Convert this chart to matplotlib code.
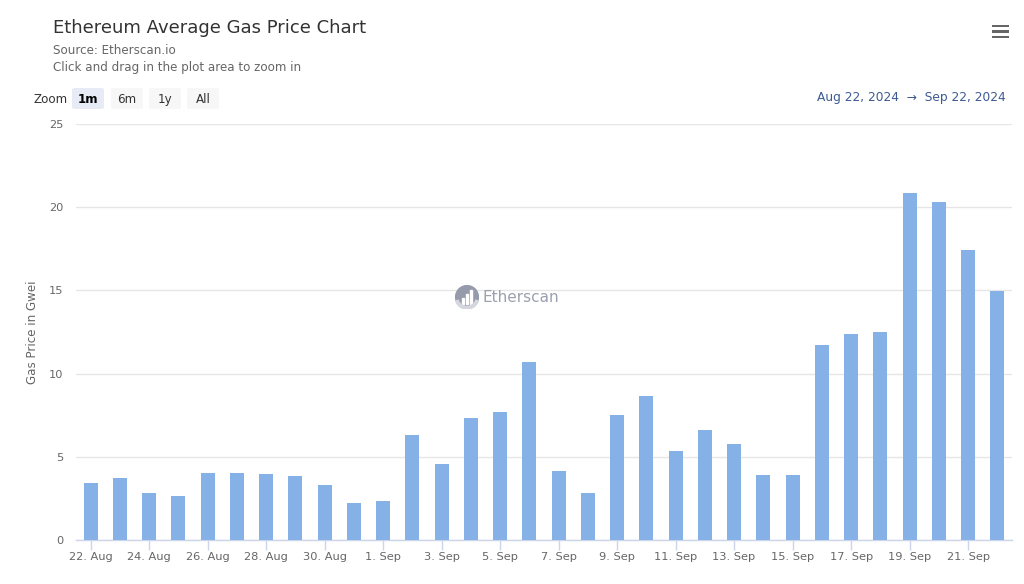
import matplotlib
matplotlib.use("Agg")
import matplotlib.pyplot as plt
from matplotlib.patches import FancyBboxPatch, Circle, Wedge, Rectangle

plt.rcParams['font.family'] = ['DejaVu Sans']

dates = ["22. Aug", "23. Aug", "24. Aug", "25. Aug", "26. Aug", "27. Aug", "28. Aug",
         "29. Aug", "30. Aug", "31. Aug", "1. Sep", "2. Sep", "3. Sep", "4. Sep",
         "5. Sep", "6. Sep", "7. Sep", "8. Sep", "9. Sep", "10. Sep", "11. Sep",
         "12. Sep", "13. Sep", "14. Sep", "15. Sep", "16. Sep", "17. Sep", "18. Sep",
         "19. Sep", "20. Sep", "21. Sep", "22. Sep"]
gas_gwei = [3.43, 3.73, 2.82, 2.64, 4.03, 4.03, 3.97, 3.85, 3.30, 2.22, 2.34,
            6.31, 4.57, 7.33, 7.69, 10.70, 4.15, 2.82, 7.51, 8.65, 5.35, 6.61,
            5.77, 3.90, 3.90, 11.72, 12.38, 12.50, 20.85, 20.30, 17.43, 14.96]
y_ticks = [0, 5, 10, 15, 20, 25]
zoom_buttons = ["1m", "6m", "1y", "All"]

W, H = 1024, 584
fig = plt.figure(figsize=(W / 100, H / 100), dpi=100)
ax = fig.add_axes([76 / W, 1 - 540 / H, (1012 - 76) / W, (540 - 124) / H])

x = list(range(len(dates)))
ax.bar(x, gas_gwei, width=0.48, color="#85b1e7", zorder=3)

ax.set_xlim(-0.5, len(dates) - 0.5)
ax.set_ylim(0, 25)
ax.set_yticks(y_ticks)
ax.set_yticklabels([str(v) for v in y_ticks])
ax.set_xticks(x[::2])
ax.set_xticklabels(dates[::2])
ax.grid(axis="y", color="#e6e6e6", linewidth=1, zorder=0)
for s in ["top", "right", "left"]:
    ax.spines[s].set_visible(False)
ax.spines["bottom"].set_color("#ccd6eb")
ax.spines["bottom"].set_linewidth(1)
ax.tick_params(axis="y", length=0, pad=9, labelsize=8.2, labelcolor="#666666")
ax.tick_params(axis="x", length=7, width=1, color="#ccd6eb", pad=2,
               labelsize=8.2, labelcolor="#666666")
ax.set_ylabel("Gas Price in Gwei", fontsize=8.6, color="#666666", labelpad=7)

# Title & subtitles
fig.text(53 / W, 1 - 28 / H, "Ethereum Average Gas Price Chart", fontsize=13,
         color="#333333", va="center", ha="left")
fig.text(53 / W, 1 - 51 / H, "Source: Etherscan.io", fontsize=8.6,
         color="#666666", va="center", ha="left")
fig.text(53 / W, 1 - 68 / H, "Click and drag in the plot area to zoom in", fontsize=8.6,
         color="#666666", va="center", ha="left")

# Zoom buttons
fig.text(33 / W, 1 - 99 / H, "Zoom", fontsize=8.6, color="#333333", va="center", ha="left")
btn_x = [72, 111, 149, 187]
for i, (bx, lab) in enumerate(zip(btn_x, zoom_buttons)):
    sel = i == 0
    rect = FancyBboxPatch((bx / W, 1 - 109 / H), 32 / W, 21 / H,
                          boxstyle="round,pad=0,rounding_size=0.003",
                          transform=fig.transFigure, facecolor="#e6ebf5" if sel else "#f7f7f7",
                          edgecolor="none")
    fig.patches.append(rect)
    fig.text((bx + 16) / W, 1 - 99 / H, lab, fontsize=8.6, color="#000000" if sel else "#333333",
             fontweight="bold" if sel else "normal", va="center", ha="center")

# Date range
fig.text(1006 / W, 1 - 98 / H, "Aug 22, 2024  \u2192  Sep 22, 2024", fontsize=8.8,
         color="#3d5a94", va="center", ha="right")

# Menu icon
for yy in [26, 31.5, 37]:
    fig.patches.append(Rectangle((992 / W, 1 - (yy + 1.4) / H), 17 / W, 2.8 / H,
                                 transform=fig.transFigure, facecolor="#666666",
                                 edgecolor="none"))

# Watermark
cx, cy = 467, 297
wax = fig.add_axes([(cx - 12) / W, 1 - (cy + 12) / H, 24 / W, 24 / H])
wax.set_xlim(-1, 1); wax.set_ylim(-1, 1); wax.axis("off")
wax.add_patch(Circle((0, 0), 0.95, color="#959bab"))
for bx0, bh in [(-0.45, 0.5), (-0.1, 0.8), (0.25, 1.1)]:
    wax.add_patch(Rectangle((bx0, -0.55), 0.2, bh, color="white"))
wax.add_patch(Wedge((0, 0), 1.0, 200, 340, width=0.22, color="#d4d7de"))
fig.text(483 / W, 1 - 298 / H, "Etherscan", fontsize=11, color="#9aa0ae",
         va="center", ha="left")

fig.savefig("out.png", dpi=100, facecolor="white")
